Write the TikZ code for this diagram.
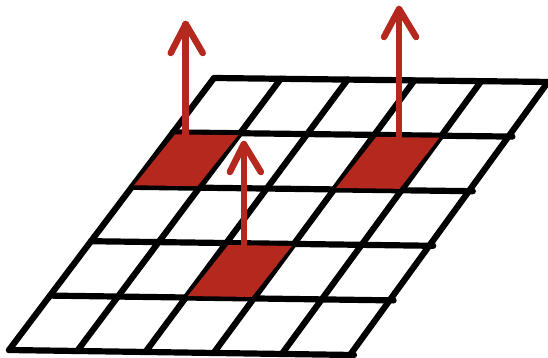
\documentclass[tikz,border=0pt]{standalone}
\usetikzlibrary{calc}
\definecolor{cellred}{HTML}{B5281E}
\tikzset{
  gridline/.style={line width=6.2pt, black, line cap=round, line join=round},
  redcell/.style={fill=cellred, draw=none},
  upshaft/.style={line width=6.5pt, cellred, line cap=round},
  uphead/.style={line width=6.5pt, cellred, line cap=round, line join=round},
}
\begin{document}
\begin{tikzpicture}[x=1pt,y=-1pt]
\useasboundingbox (0,0) rectangle (548,358);
% grid vertices (bilinear)
\foreach \c in {0,...,5}{
  \foreach \r in {0,...,5}{
    \coordinate (p\c\r) at ({9+68.2*\c+41*\r-7*\c*\r/25},{350+1*\c-54.4*\r-1*\c*\r/25});
  }
}
% grid lines
\foreach \r in {0,...,5}{
  \draw[gridline] (p0\r) -- ($(p5\r)+(4,0)$);
}
\foreach \c in {0,...,5}{
  \draw[gridline] (p\c0) -- (p\c5);
}
% red cells
\fill[redcell] ($(p03)+(2,-1.5)$) -- ($(p13)+(-2,-1.5)$) -- ($(p14)+(-2,2)$) -- ($(p04)+(2,2)$) -- cycle;
\fill[redcell] ($(p33)+(2,-1.5)$) -- ($(p43)+(-2,-1.5)$) -- ($(p44)+(-2,2)$) -- ($(p34)+(2,2)$) -- cycle;
\fill[redcell] ($(p21)+(2,-1.5)$) -- ($(p31)+(-2,-1.5)$) -- ($(p32)+(-2,2)$) -- ($(p22)+(2,2)$) -- cycle;
% arrow bases and tips
\coordinate (b1) at ($(p04)!0.19!(p14)+(0,8)$);
\coordinate (b2) at ($(p34)!0.37!(p44)+(0,8)$);
\coordinate (b3) at ($(p22)!0.26!(p32)+(0,8)$);
\coordinate (t1) at (b1 |- 0,24);
\coordinate (t2) at (b2 |- 0,9);
\coordinate (t3) at (b3 |- 0,144);
\draw[upshaft] (b1) -- (t1);
\draw[upshaft] (b2) -- (t2);
\draw[upshaft] (b3) -- (t3);
\draw[uphead] ($(t1)+(-15,29)$) -- (t1) -- ($(t1)+(17,29)$);
\draw[uphead] ($(t2)+(-15,28)$) -- (t2) -- ($(t2)+(17,28)$);
\draw[uphead] ($(t3)+(-14,28)$) -- (t3) -- ($(t3)+(17,28)$);
\end{tikzpicture}
\end{document}
